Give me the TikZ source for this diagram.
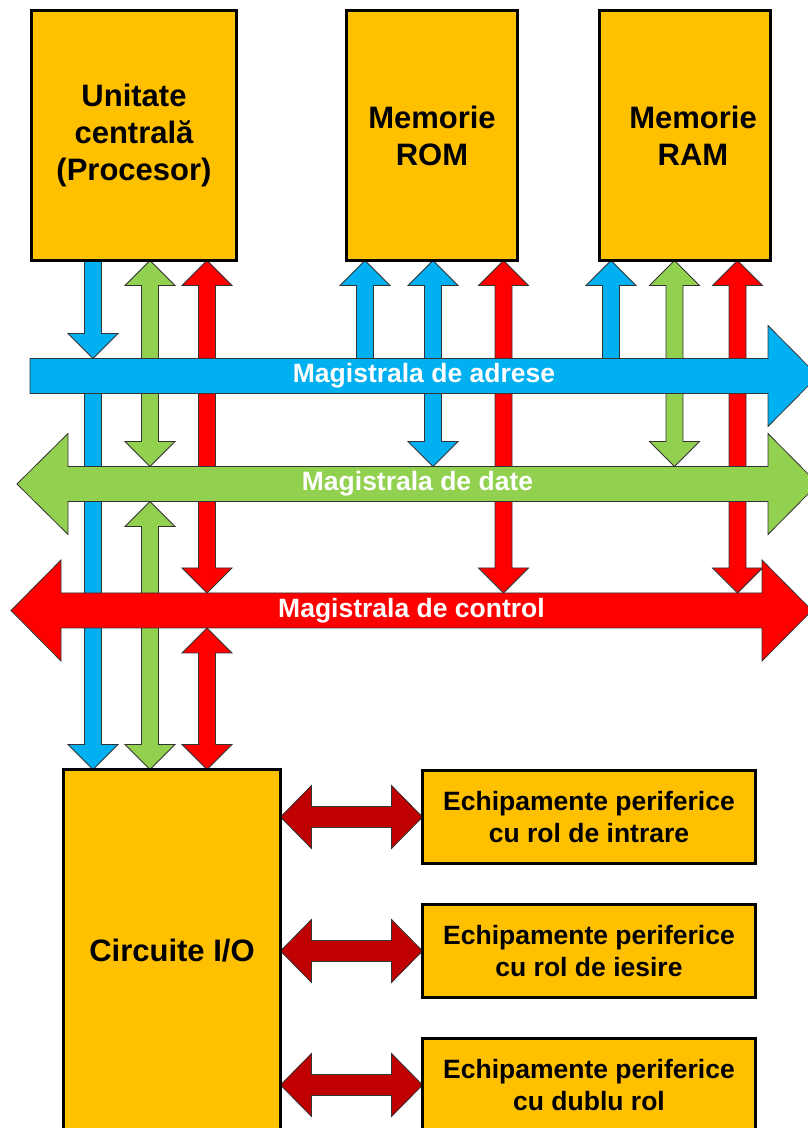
\documentclass[tikz,border=0pt]{standalone}
\usepackage{fontspec}
\setmainfont{Liberation Sans}
\usetikzlibrary{calc}
\pgfdeclarelayer{back}
\pgfdeclarelayer{mid}
\pgfsetlayers{back,mid,main}

\definecolor{unitfill}{HTML}{FFC000}
\definecolor{addrblue}{HTML}{00B0F0}
\definecolor{datagreen}{HTML}{92D050}
\definecolor{ctrlred}{HTML}{FF0000}
\definecolor{linkred}{HTML}{C00000}

% vertical fat arrow, heads at both ends: #2 = top point, #3 = bottom point
\newcommand\fatboth[3]{\path[#1] let \p1=#2, \p2=#3 in
  (\x1,\y1) -- (\x1+25pt,\y1-25pt) -- (\x1+8.5pt,\y1-25pt) -- (\x2+8.5pt,\y2+25pt)
  -- (\x2+25pt,\y2+25pt) -- (\x2,\y2) -- (\x2-25pt,\y2+25pt) -- (\x2-8.5pt,\y2+25pt)
  -- (\x1-8.5pt,\y1-25pt) -- (\x1-25pt,\y1-25pt) -- cycle;}
% vertical fat arrow pointing down
\newcommand\fatdown[3]{\path[#1] let \p1=#2, \p2=#3 in
  (\x1-8.5pt,\y1) -- (\x1+8.5pt,\y1) -- (\x2+8.5pt,\y2+25pt) -- (\x2+25pt,\y2+25pt)
  -- (\x2,\y2) -- (\x2-25pt,\y2+25pt) -- (\x2-8.5pt,\y2+25pt) -- cycle;}
% vertical fat arrow pointing up
\newcommand\fatup[3]{\path[#1] let \p1=#2, \p2=#3 in
  (\x1,\y1) -- (\x1+25pt,\y1-25pt) -- (\x1+8.5pt,\y1-25pt) -- (\x2+8.5pt,\y2)
  -- (\x2-8.5pt,\y2) -- (\x1-8.5pt,\y1-25pt) -- (\x1-25pt,\y1-25pt) -- cycle;}
% horizontal fat arrow, heads at both ends: #2 = left point, #3 = right point
\newcommand\fatlr[3]{\path[#1] let \p1=#2, \p2=#3 in
  (\x1,\y1) -- (\x1+31pt,\y1+31.5pt) -- (\x1+31pt,\y1+10.5pt) -- (\x2-31pt,\y2+10.5pt)
  -- (\x2-31pt,\y2+31.5pt) -- (\x2,\y2) -- (\x2-31pt,\y2-31.5pt) -- (\x2-31pt,\y2-10.5pt)
  -- (\x1+31pt,\y1-10.5pt) -- (\x1+31pt,\y1-31.5pt) -- cycle;}

\begin{document}
\begin{tikzpicture}[x=1pt,y=1pt,
  unit/.style={draw=black, line width=3pt, fill=unitfill, outer sep=0pt, inner sep=0pt,
    align=center, font=\fontsize{31}{37}\selectfont\bfseries},
  periph/.style={unit, minimum width=333, minimum height=93,
    font=\fontsize{26.5}{32}\selectfont\bfseries},
  bus/.style={inner sep=0pt, outer sep=0pt, minimum height=35, text=white,
    font=\fontsize{26.5}{32}\selectfont\bfseries},
  fatline/.style={draw=black!80, line width=0.8pt, line join=miter},
  addr/.style={fatline, fill=addrblue},
  data/.style={fatline, fill=datagreen},
  ctrl/.style={fatline, fill=ctrlred},
  link/.style={fatline, fill=linkred}]

\useasboundingbox (0,0) rectangle (808,1128);
\clip (0,0) rectangle (808,1128);

% units
\node[unit, minimum width=205, minimum height=250] (cpu) at (134,992.5) {Unitate\\centrală\\(Procesor)};
\node[unit, minimum width=171, minimum height=250] (rom) at (432,992.5) {Memorie\\ROM};
\node[unit, minimum width=171, minimum height=250] (ram) at (685,992.5)
  {\hspace*{16pt}Memorie\\\hspace*{16pt}RAM};
\node[unit, minimum width=217, minimum height=363] (io) at (172,177) {Circuite I/O};
\node[periph] (p1) at (589,311) {Echipamente periferice\\cu rol de intrare};
\node[periph] (p2) at (589,177) {Echipamente periferice\\cu rol de iesire};
\node[periph] (p3) at (589,43) {Echipamente periferice\\cu dublu rol};

% buses
\node[bus, minimum width=788] (abus) at (424,752) {Magistrala de adrese};
\node[bus, minimum width=801] (dbus) at (417.5,644) {Magistrala de date};
\node[bus, minimum width=801] (cbus) at (411.5,517.5) {Magistrala de control};

\begin{pgfonlayer}{mid}
\path[addr] (abus.south west) -- (abus.north west) -- ($(abus.north east)+(-50,0)$)
  -- ($(abus.east)+(-50,50.5)$) -- (abus.east) -- ($(abus.east)+(-50,-50.5)$)
  -- ($(abus.south east)+(-50,0)$) -- cycle;
\path[data] (dbus.west) -- ($(dbus.west)+(51,50.5)$) -- ($(dbus.north west)+(51,0)$)
  -- ($(dbus.north east)+(-50,0)$) -- ($(dbus.east)+(-50,50.5)$) -- (dbus.east)
  -- ($(dbus.east)+(-50,-50.5)$) -- ($(dbus.south east)+(-50,0)$)
  -- ($(dbus.south west)+(51,0)$) -- ($(dbus.west)+(51,-50.5)$) -- cycle;
\path[ctrl] (cbus.west) -- ($(cbus.west)+(50,50.5)$) -- ($(cbus.north west)+(50,0)$)
  -- ($(cbus.north east)+(-50,0)$) -- ($(cbus.east)+(-50,50.5)$) -- (cbus.east)
  -- ($(cbus.east)+(-50,-50.5)$) -- ($(cbus.south east)+(-50,0)$)
  -- ($(cbus.south west)+(50,0)$) -- ($(cbus.west)+(50,-50.5)$) -- cycle;
\end{pgfonlayer}

\begin{pgfonlayer}{back}
% processor links
\fatdown{addr}{(93,0 |- cpu.south)}{(93,0 |- abus.north)}
\fatdown{addr}{(93,0 |- abus.south)}{(93,0 |- io.north)}
\fatboth{data}{(150,0 |- cpu.south)}{(150,0 |- dbus.north)}
\fatboth{data}{(150,0 |- dbus.south)}{(150,0 |- io.north)}
\fatboth{ctrl}{(207,0 |- cpu.south)}{(207,0 |- cbus.north)}
\fatboth{ctrl}{(207,0 |- cbus.south)}{(207,0 |- io.north)}
% ROM links
\fatup{addr}{(365,0 |- rom.south)}{(365,0 |- abus.north)}
\fatboth{addr}{(433,0 |- rom.south)}{(433,0 |- dbus.north)}
\fatboth{ctrl}{(503.5,0 |- rom.south)}{(503.5,0 |- cbus.north)}
% RAM links
\fatup{addr}{(611,0 |- ram.south)}{(611,0 |- abus.north)}
\fatboth{data}{(674.5,0 |- ram.south)}{(674.5,0 |- dbus.north)}
\fatboth{ctrl}{(737.5,0 |- ram.south)}{(737.5,0 |- cbus.north)}
% peripheral links
\fatlr{link}{(io.east |- p1.west)}{(p1.west)}
\fatlr{link}{(io.east |- p2.west)}{(p2.west)}
\fatlr{link}{(io.east |- p3.west)}{(p3.west)}
\end{pgfonlayer}
\end{tikzpicture}
\end{document}
